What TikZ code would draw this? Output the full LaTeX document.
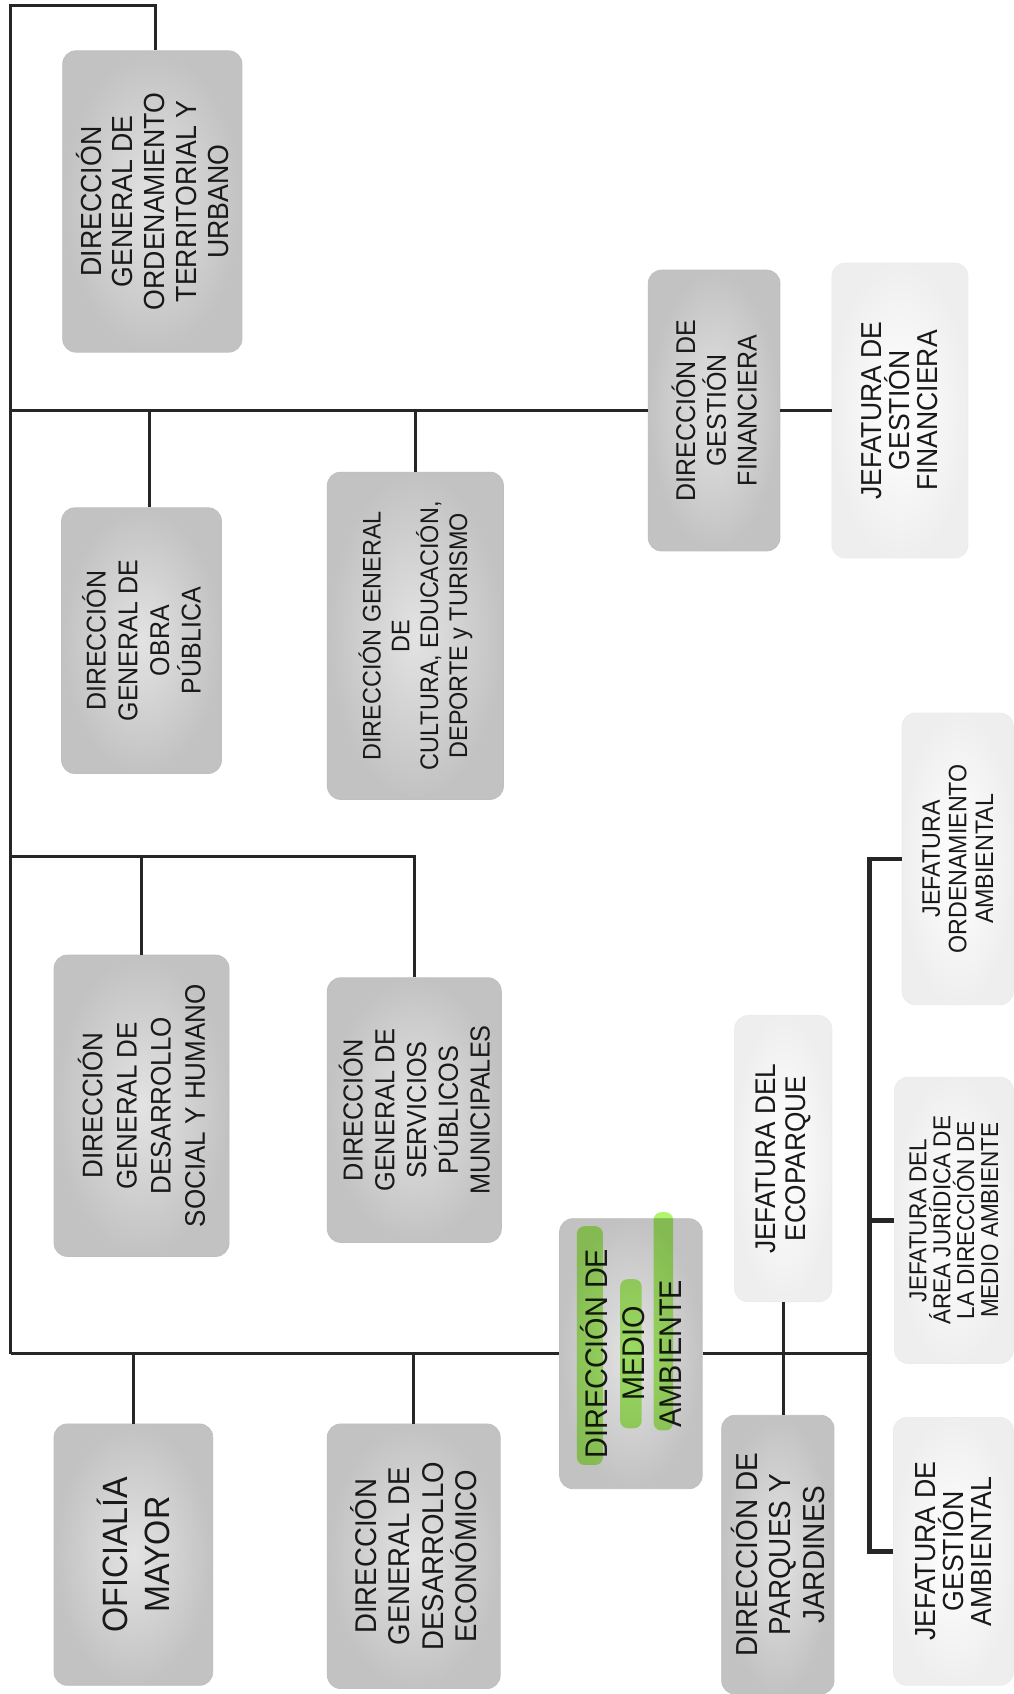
\documentclass[tikz,border=0pt]{standalone}
\usepackage{fontspec}
\setmainfont{Liberation Sans}[FakeStretch=0.92]
\begin{document}
\begin{tikzpicture}[x=0.02cm,y=-0.02cm,
        fs/.style 2 args={font=\fontsize{#1}{#2}\selectfont},
        box/.style={rotate=90,rounded corners=7pt,align=center,inner sep=1pt,text=black!90,fs={14.5}{16.5}},
        dark/.style={box,draw=gray!50,inner color=gray!22,outer color=gray!48},
        light/.style={box,draw=gray!15,inner color=white,outer color=gray!13},
        link/.style={line width=1.6pt,black!85},
        stub/.style={line width=2.4pt,black!85},
        marker/.style={fill={rgb,255:red,175;green,245;blue,110},blend mode=multiply}]
        \useasboundingbox (0,0) rectangle (938,1568);
        \fill[white] (0,0) rectangle (938,1568);
        % Top row
        \node[dark,minimum width=5.58cm,minimum height=3.32cm,fs={15.3}{16.8}] (ord) at (141,186.5)
            {DIRECCIÓN\\GENERAL DE\\ORDENAMIENTO\\TERRITORIAL Y\\URBANO};
        \node[dark,minimum width=4.92cm,minimum height=2.96cm,fs={14.3}{16.7}] (obra) at (131,593)
            {DIRECCIÓN\\GENERAL DE\\OBRA\\PÚBLICA};
        \node[dark,minimum width=6.06cm,minimum height=3.26cm,fs={13.4}{15.2}] (cultura) at (384.5,588.5)
            {DIRECCIÓN GENERAL\\DE\\CULTURA, EDUCACIÓN,\\DEPORTE y TURISMO};
        \node[dark,minimum width=5.2cm,minimum height=2.44cm,fs={14.3}{16.2}] (dgf) at (661,380)
            {DIRECCIÓN DE\\GESTIÓN\\FINANCIERA};
        \node[light,minimum width=5.46cm,minimum height=2.52cm,fs={15.2}{14.8}] (jgf) at (833,380)
            {JEFATURA DE\\GESTIÓN\\FINANCIERA};
        % Middle row
        \node[dark,minimum width=5.58cm,minimum height=3.24cm,fs={14.9}{18}] (social) at (131,1023.5)
            {DIRECCIÓN\\GENERAL DE\\DESARROLLO\\SOCIAL Y HUMANO};
        \node[dark,minimum width=4.9cm,minimum height=3.22cm,fs={14.5}{16.7}] (servicios) at (383.5,1027.5)
            {DIRECCIÓN\\GENERAL DE\\SERVICIOS\\PÚBLICOS\\MUNICIPALES};
        \node[light,minimum width=5.4cm,minimum height=2.06cm,fs={13.3}{14}] (ordamb) at (886.5,795)
            {JEFATURA\\ORDENAMIENTO\\AMBIENTAL};
        % Bottom row
        \node[dark,minimum width=4.84cm,minimum height=2.94cm,fs={18.5}{22}] (oficialia) at (123.5,1439)
            {OFICIALÍA\\MAYOR};
        \node[dark,minimum width=4.9cm,minimum height=3.2cm,fs={15.8}{17.6}] (economico) at (383,1440.5)
            {DIRECCIÓN\\GENERAL DE\\DESARROLLO\\ECONÓMICO};
        \node[dark,minimum width=5cm,minimum height=2.64cm,fs={16.5}{19.3}] (medio) at (584,1253)
            {DIRECCIÓN DE\\MEDIO\\AMBIENTE};
        \node[light,minimum width=5.3cm,minimum height=1.8cm,fs={15}{16}] (ecoparque) at (725,1072.5)
            {JEFATURA DEL\\ECOPARQUE};
        \node[dark,minimum width=5.16cm,minimum height=2.08cm,fs={16}{17.6}] (parques) at (720,1439)
            {DIRECCIÓN DE\\PARQUES Y\\JARDINES};
        \node[light,minimum width=5.3cm,minimum height=2.2cm,fs={12.9}{12.6}] (juridica) at (883,1129.5)
            {JEFATURA DEL\\ÁREA JURÍDICA DE\\LA DIRECCIÓN DE\\MEDIO AMBIENTE};
        \node[light,minimum width=4.96cm,minimum height=2.22cm,fs={15.3}{14.8}] (gesamb) at (882.5,1436)
            {JEFATURA DE\\GESTIÓN\\AMBIENTAL};
        % highlighter on medio ambiente
        \path[marker,rounded corners=4pt] (534,1135) rectangle (558,1356);
        \path[marker,rounded corners=4pt] (574,1184) rectangle (594,1322);
        \path[marker,rounded corners=4pt] (605,1122) rectangle (623,1324);
        % Connectors
        \coordinate (sp0) at (10,5);
        \coordinate (r1) at (10,380);
        \coordinate (r2) at (10,793);
        \coordinate (r3) at (10,1253);
        \coordinate (jv) at (805,1253);
        \draw[link] (r3) -- (sp0) -| ([xshift=0.05cm]ord.east);
        \draw[link] (r1) -- (dgf.north);
        \draw[link] (dgf.south) -- (jgf.north);
        \draw[link] ([xshift=0.14cm]obra.east) -- ([xshift=0.14cm]obra.east |- r1);
        \draw[link] (cultura.east) -- (cultura.east |- r1);
        \draw[link] (r2) -| (servicios.east);
        \draw[link] (social.east) -- (social.east |- r2);
        \draw[link] (r3) -- (medio.north);
        \draw[link] (oficialia.east) -- (oficialia.east |- r3);
        \draw[link] (economico.east) -- (economico.east |- r3);
        \draw[link] (medio.south) -- (jv);
        \draw[link] (ecoparque.west) -- (ecoparque.west |- parques.east);
        \draw[stub] (ordamb.north) -| (jv) |- (gesamb.north);
        \draw[stub] (jv |- juridica.north) -- (juridica.north);
    \end{tikzpicture}
\end{document}
